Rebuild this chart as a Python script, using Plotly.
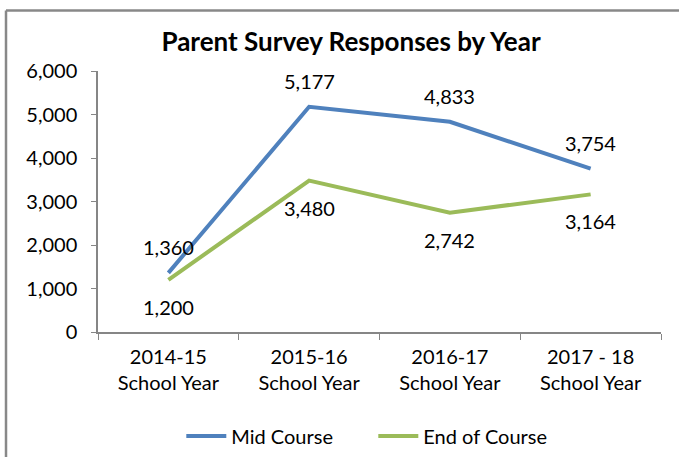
import plotly.graph_objects as go

categories = ["2014-15<br>School Year", "2015-16<br>School Year", "2016-17<br>School Year", "2017 - 18<br>School Year"]
mid_course = [1360, 5177, 4833, 3754]
end_course = [1200, 3480, 2742, 3164]
y_ticks = [0, 1000, 2000, 3000, 4000, 5000, 6000]

FONT = "Lato"
BLUE = "#4f81bd"
GREEN = "#9bbb59"

fig = go.Figure()
fig.add_trace(go.Scatter(x=categories, y=mid_course, mode="lines", name="Mid Course",
                         line=dict(color=BLUE, width=4)))
fig.add_trace(go.Scatter(x=categories, y=end_course, mode="lines", name="End of Course",
                         line=dict(color=GREEN, width=4)))

for xs, ys, shift in [(categories, mid_course, 26), (categories, end_course, -27)]:
    for cx, cy in zip(xs, ys):
        fig.add_annotation(x=cx, y=cy, text=f"{cy:,}", showarrow=False, yshift=shift,
                           font=dict(family=FONT, size=20, color="#000000"))

fig.update_layout(
    width=679, height=457,
    margin=dict(l=98, r=18, t=71, b=125, autoexpand=False),
    paper_bgcolor="white", plot_bgcolor="white",
    title=dict(text="<b>Parent Survey Responses by Year</b>", x=0.517, xanchor="center",
               y=1 - 42 / 457, yanchor="middle", font=dict(family=FONT, size=26, color="#000000")),
    font=dict(family=FONT, size=20, color="#000000"),
    showlegend=True,
    legend=dict(orientation="h", x=0.489, xanchor="center", y=-0.398, yanchor="middle",
                font=dict(family=FONT, size=20, color="#000000"), itemwidth=40,
                entrywidth=137),
    xaxis=dict(showgrid=False, showline=True, linecolor="#868686", linewidth=1.5,
               range=[-0.5, 3.5], automargin=False,
               ticks="outside", tickson="boundaries", ticklen=6, tickcolor="#868686",
               tickfont=dict(family=FONT, size=20), zeroline=False, ticklabelstandoff=6),
    yaxis=dict(range=[0, 6000], tickvals=y_ticks, tickformat=",d", showgrid=False,
               showline=True, linecolor="#868686", linewidth=1.5, ticks="outside",
               ticklen=5, tickcolor="#868686", tickfont=dict(family=FONT, size=20),
               zeroline=False, ticklabelstandoff=10, automargin=False),
    shapes=[
        dict(type="line", xref="paper", yref="paper", x0=-0.1634, x1=-0.1634, y0=-0.6, y1=1.232,
             line=dict(color="#888888", width=2.5)),
        dict(type="line", xref="paper", yref="paper", x0=-0.1634, x1=1.2, y0=1.232, y1=1.232,
             line=dict(color="#888888", width=2.5)),
    ],
)

fig.write_html("out.html", config={"displayModeBar": False},
               post_script="document.body.style.margin='0';")
